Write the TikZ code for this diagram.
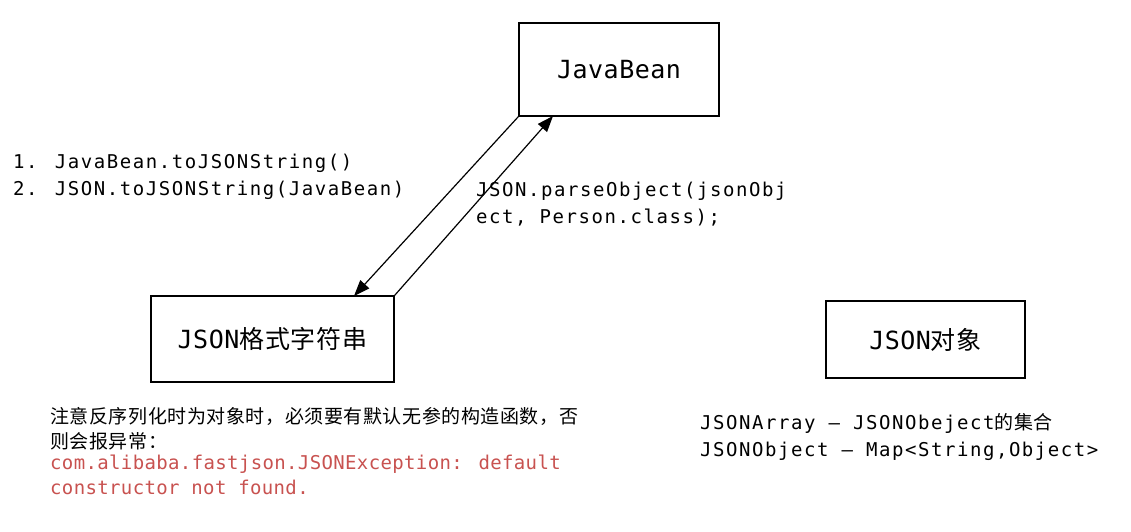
\documentclass[tikz,border=0pt]{standalone}
\usepackage{fontspec}
\usetikzlibrary{arrows.meta}
\newfontfamily\codefont[LetterSpace=8.2]{DejaVu Sans Mono}
\newfontfamily\labelfont[LetterSpace=2]{DejaVu Sans Mono}
\newfontfamily\errfont[LetterSpace=1.9]{DejaVu Sans Mono}
\newfontfamily\cjk[LetterSpace=3]{Noto Sans CJK SC}
\definecolor{errred}{RGB}{200,82,80}

\begin{document}
\begin{tikzpicture}[x=1pt,y=-1pt]
      \tikzset{
        box/.style={draw,line width=1.6pt,inner sep=0pt,
          font=\fontsize{25}{29}\labelfont},
        line/.style={inner sep=0pt,anchor=base west,
          font=\fontsize{19}{27}\codefont},
        arr/.style={line width=1.2pt,-{Triangle[length=16pt,width=12pt]}}
      }
      \useasboundingbox (0,0) rectangle (1131,531);

      \node[box,minimum width=200pt,minimum height=93pt] (jb) at (619,69.5) {JavaBean};
      \node[box,minimum width=243pt,minimum height=86pt] (jstr) at (272.5,339) {JSON{\cjk 格式字符串}};
      \node[box,minimum width=199pt,minimum height=77pt] (jobj) at (925.5,339.5) {JSON{\cjk 对象}};

      \coordinate (strtip) at (354,296);
      \coordinate (jbtip) at (553,116);

      \draw[arr] (jb.south west) -- (strtip);
      \draw[arr] (jstr.north east) -- (jbtip);

      % serialize
      \node[line] (ser1) at (13,168) {1. JavaBean.toJSONString()};
      \node[line] (ser2) at (13,195) {2. JSON.toJSONString(JavaBean)};

      % deserialize
      \node[line] (des1) at (476,196) {JSON.parseObject(jsonObj};
      \node[line] (des2) at (476,223) {ect, Person.class);};

      % note
      \node[line,font=\fontsize{19}{25}\cjk] (note1) at (50,423) {注意反序列化时为对象时，必须要有默认无参的构造函数，否};
      \node[line,font=\fontsize{19}{25}\cjk] (note2) at (50,448) {则会报异常：};
      \node[line,font=\fontsize{19}{25}\errfont,text=errred] (err1) at (50,469) {com.alibaba.fastjson.JSONException: default};
      \node[line,font=\fontsize{19}{25}\errfont,text=errred] (err2) at (50,494) {constructor not found.};

      % json types
      \node[line] (arr1) at (700,429) {JSONArray – JSONObeject{\cjk 的集合}};
      \node[line] (obj1) at (700,456.5) {JSONObject – Map<String,Object>};
    \end{tikzpicture}
\end{document}
